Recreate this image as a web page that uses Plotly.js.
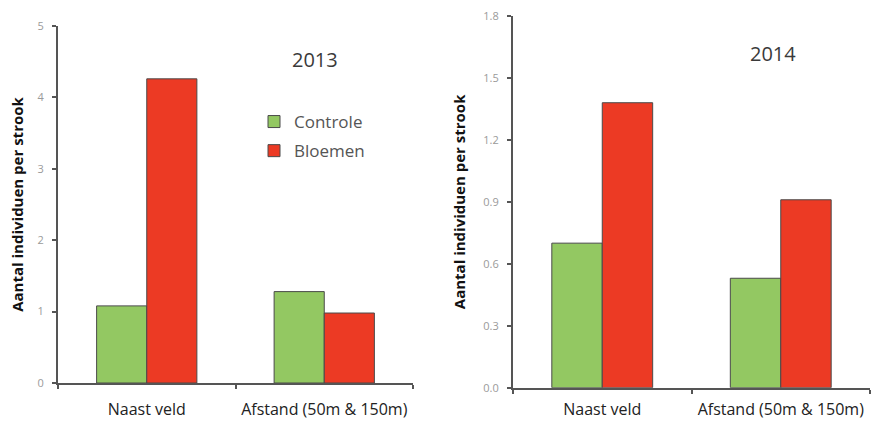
<!DOCTYPE html>
<html>
<head>
<meta charset="utf-8">
<script src="https://cdn.plot.ly/plotly-3.0.1.min.js"></script>
<style>html,body{margin:0;padding:0;background:#fff}#chart{width:873px;height:422px}</style>
</head>
<body>
<div id="chart"></div>
<script>
const categories = ["Naast veld", "Afstand (50m & 150m)"];
const seriesNames = ["Controle", "Bloemen"];
const controle2013 = [1.08, 1.28];
const bloemen2013 = [4.26, 0.98];
const controle2014 = [0.70, 0.53];
const bloemen2014 = [1.38, 0.91];
const yTitle = "Aantal individuen per strook";
const titles = ["2013", "2014"];

const green = "#93c862";
const red = "#ec3a24";
const outline = {color: "#4a4a4a", width: 1};

const traces = [
  {type: "bar", name: seriesNames[0], x: categories, y: controle2013, marker: {color: green, line: outline}, xaxis: "x", yaxis: "y", legendgroup: "c"},
  {type: "bar", name: seriesNames[1], x: categories, y: bloemen2013, marker: {color: red, line: outline}, xaxis: "x", yaxis: "y", legendgroup: "b"},
  {type: "bar", name: seriesNames[0], x: categories, y: controle2014, marker: {color: green, line: outline}, xaxis: "x2", yaxis: "y2", showlegend: false, legendgroup: "c"},
  {type: "bar", name: seriesNames[1], x: categories, y: bloemen2014, marker: {color: red, line: outline}, xaxis: "x2", yaxis: "y2", showlegend: false, legendgroup: "b"}
];

const W = 873, H = 422;
const font = "Open Sans, sans-serif";
const xCommon = {
  type: "category", showline: true, linecolor: "#555", linewidth: 2,
  ticks: "outside", tickson: "boundaries", ticklen: 4, tickcolor: "#555", tickwidth: 2,
  tickfont: {family: font, size: 16, color: "#222"},
  showgrid: false, zeroline: false, fixedrange: true
};
const yCommon = {
  showline: true, linecolor: "#555", linewidth: 2,
  ticks: "outside", ticklen: 4, tickcolor: "#555", tickwidth: 2,
  tickfont: {family: font, size: 11, color: "#9a9a9a"}, ticklabelstandoff: 6,
  showgrid: false, zeroline: false, fixedrange: true
};
const yTitleFont = {family: font, size: 15, color: "#111", weight: "bold"};

const layout = {
  width: W, height: H,
  margin: {l: 0, r: 0, t: 0, b: 0},
  paper_bgcolor: "#fff", plot_bgcolor: "#fff",
  barmode: "group", bargap: 0.435, bargroupgap: 0,
  showlegend: true,
  legend: {x: 254 / W, y: 1 - 104 / H, xanchor: "left", yanchor: "top",
    font: {family: font, size: 17, color: "#555"}, bgcolor: "rgba(0,0,0,0)",
    itemwidth: 30, tracegroupgap: 4},
  xaxis: Object.assign({}, xCommon, {domain: [58 / W, 413 / W], anchor: "y", ticklabelstandoff: 11}),
  yaxis: Object.assign({}, yCommon, {domain: [1 - 383 / H, 1 - 26 / H], anchor: "x",
    range: [0, 5], dtick: 1, tick0: 0,
    title: {text: yTitle, font: yTitleFont, standoff: 10}}),
  xaxis2: Object.assign({}, xCommon, {domain: [513 / W, 870 / W], anchor: "y2", ticklabelstandoff: 6}),
  yaxis2: Object.assign({}, yCommon, {domain: [1 - 387.7 / H, 1 - 16 / H], anchor: "x2",
    range: [0, 1.8], dtick: 0.3, tick0: 0, tickformat: ".1f",
    title: {text: yTitle, font: yTitleFont, standoff: 14}}),
  annotations: [
    {text: titles[0], xref: "paper", yref: "paper", x: 315 / W, y: 1 - 59 / H, xanchor: "center", yanchor: "middle", showarrow: false, font: {family: font, size: 20, color: "#3a3a3a"}},
    {text: titles[1], xref: "paper", yref: "paper", x: 773 / W, y: 1 - 53 / H, xanchor: "center", yanchor: "middle", showarrow: false, font: {family: font, size: 20, color: "#3a3a3a"}}
  ]
};

Plotly.newPlot("chart", traces, layout, {displayModeBar: false, staticPlot: true});
</script>
</body>
</html>
